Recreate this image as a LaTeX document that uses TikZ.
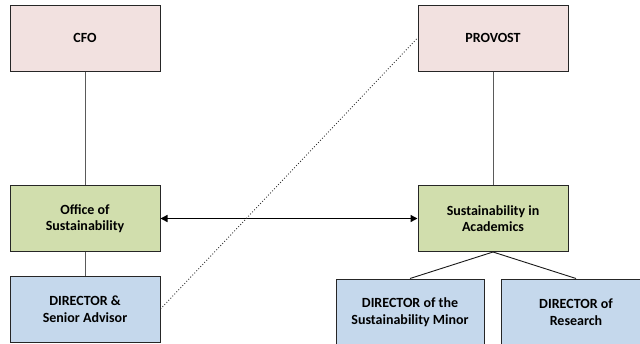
\documentclass[tikz,border=0pt]{standalone}
\usepackage{fontspec}
\setmainfont{Carlito}
\usetikzlibrary{arrows.meta}
\definecolor{pinkfill}{RGB}{242,225,224}
\definecolor{greenfill}{RGB}{209,222,173}
\definecolor{bluefill}{RGB}{197,216,236}
\definecolor{edgegray}{RGB}{90,90,90}
\begin{document}
\begin{tikzpicture}[x=1pt,y=-1pt,
  box/.style={draw=black!85, line width=1pt, minimum width=150pt, minimum height=66pt,
    align=center, font=\fontsize{14}{16.5}\selectfont\bfseries, inner sep=0pt},
  vline/.style={draw=edgegray, line width=1pt},
  tline/.style={draw=black!90, line width=0.9pt},
  arr/.style={draw=black, line width=1.4pt, {Triangle[length=7pt,width=7pt]}-{Triangle[length=7pt,width=7pt]}},
  dotline/.style={draw=black!80, line width=0.9pt, dotted}]
\useasboundingbox (0,0) rectangle (640,343);
\clip (0,0) rectangle (640,343);
\node[box, fill=pinkfill] (cfo) at (85,38) {CFO};
\node[box, fill=pinkfill] (prov) at (493,38) {PROVOST};
\node[box, fill=greenfill] (off) at (85,218.5) {Office of\\Sustainability};
\node[box, fill=greenfill] (acad) at (493,218.5) {Sustainability in\\Academics};
\node[box, fill=bluefill] (dsa) at (85,309) {DIRECTOR \&\\Senior Advisor};
\node[box, fill=bluefill, minimum width=148pt] (minor) at (410,312) {DIRECTOR of the\\Sustainability Minor};
\node[box, fill=bluefill, minimum width=150pt] (res) at (576,312) {DIRECTOR of\\Research};
\draw[vline] (cfo) -- (off);
\draw[vline] (off) -- (dsa);
\draw[vline] (prov) -- (acad);
\draw[tline] (acad.south) -- (minor.north);
\draw[tline] (acad.south) -- (res.north);
\draw[arr] (off) -- (acad);
\draw[dotline] (dsa.east) -- (prov.west);
\end{tikzpicture}
\end{document}
